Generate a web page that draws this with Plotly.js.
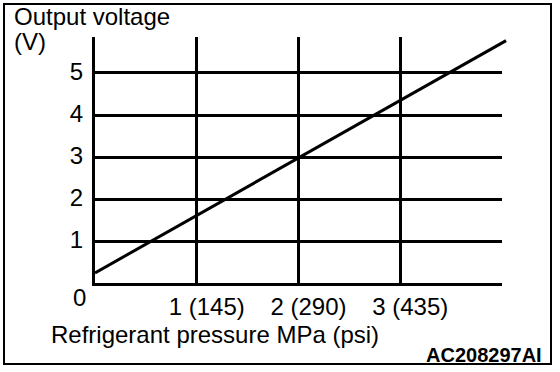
<!DOCTYPE html>
<html>
<head>
<meta charset="utf-8">
<script src="https://cdn.plot.ly/plotly-3.0.1.min.js"></script>
<style>html,body{margin:0;padding:0;background:#fff;}#chart{width:560px;height:372px;}</style>
</head>
<body>
<div id="chart"></div>
<script>
// Data
const pressureMPa = [0, 4.04];
const outputVoltage = [0.24, 5.77];
const xTickVals = [1, 2, 3];
const xTickText = ['1 (145)', '2 (290)', '3 (435)'];
const yTickVals = [1, 2, 3, 4, 5];
const yTickText = ['1', '2', '3', '4', '5'];

const W = 560, H = 372;
const px = v => v / W;
const py = v => (H - v) / H;

const FONT = 'Liberation Sans, Arial, sans-serif';
const FS = 24;

const traces = [
  {x: [0, 4], y: [0, 0], xaxis: 'x', yaxis: 'y', mode: 'lines', line: {width: 0}, hoverinfo: 'skip', showlegend: false},
  {x: pressureMPa, y: outputVoltage, xaxis: 'x2', yaxis: 'y2', mode: 'lines',
   line: {color: '#000', width: 3}, showlegend: false}
];

const yTop = 5.857;
const layout = {
  width: W, height: H,
  margin: {l: 0, r: 0, t: 0, b: 0},
  paper_bgcolor: '#fff', plot_bgcolor: 'rgba(0,0,0,0)',
  showlegend: false,
  font: {family: FONT, size: FS, color: '#000'},
  xaxis: {
    domain: [px(95), px(502)], range: [0, 4], anchor: 'y',
    tickvals: xTickVals, ticktext: xTickText, ticks: '',
    showgrid: true, gridcolor: '#000', gridwidth: 3,
    zeroline: false, showline: true, linecolor: '#000', linewidth: 3,
    tickfont: {family: FONT, size: FS, color: '#000'}, ticklabelstandoff: 0, ticklabelshift: 10
  },
  yaxis: {
    domain: [py(283), py(37)], range: [0, yTop], anchor: 'x',
    tickvals: yTickVals, ticktext: yTickText, ticks: '',
    showgrid: true, gridcolor: '#000', gridwidth: 3,
    zeroline: false, showline: true, linecolor: '#000', linewidth: 3,
    tickfont: {family: FONT, size: FS, color: '#000'}, ticklabelstandoff: 4, ticklabelshift: -1
  },
  xaxis2: {
    domain: [px(95), px(507)], range: [0, 4 * (507 - 95) / (502 - 95)], anchor: 'y2',
    visible: false, showgrid: false, zeroline: false
  },
  yaxis2: {
    domain: [py(283), py(37)], range: [0, yTop], anchor: 'x2',
    visible: false, showgrid: false, zeroline: false
  },
  shapes: [
    {type: 'rect', xref: 'paper', yref: 'paper',
     x0: px(4), x1: px(551), y0: py(364), y1: py(4),
     line: {color: '#000', width: 2}, fillcolor: 'rgba(0,0,0,0)'}
  ],
  annotations: [
    {xref: 'paper', yref: 'paper', x: px(12), y: py(17), xanchor: 'left', yanchor: 'middle',
     text: 'Output voltage', showarrow: false, font: {family: FONT, size: FS, color: '#000'}},
    {xref: 'paper', yref: 'paper', x: px(12), y: py(41), xanchor: 'left', yanchor: 'middle',
     text: '(V)', showarrow: false, font: {family: FONT, size: FS, color: '#000'}},
    {xref: 'paper', yref: 'paper', x: px(79), y: py(297), xanchor: 'center', yanchor: 'middle',
     text: '0', showarrow: false, font: {family: FONT, size: FS, color: '#000'}},
    {xref: 'paper', yref: 'paper', x: px(49), y: py(334), xanchor: 'left', yanchor: 'middle',
     text: 'Refrigerant pressure MPa (psi)', showarrow: false, font: {family: FONT, size: FS, color: '#000'}},
    {xref: 'paper', yref: 'paper', x: px(544), y: py(355), xanchor: 'right', yanchor: 'middle',
     text: '<b>AC208297AI</b>', showarrow: false, font: {family: FONT, size: 20, color: '#000'}}
  ]
};

Plotly.newPlot('chart', traces, layout, {staticPlot: true, displayModeBar: false});
</script>
</body>
</html>
